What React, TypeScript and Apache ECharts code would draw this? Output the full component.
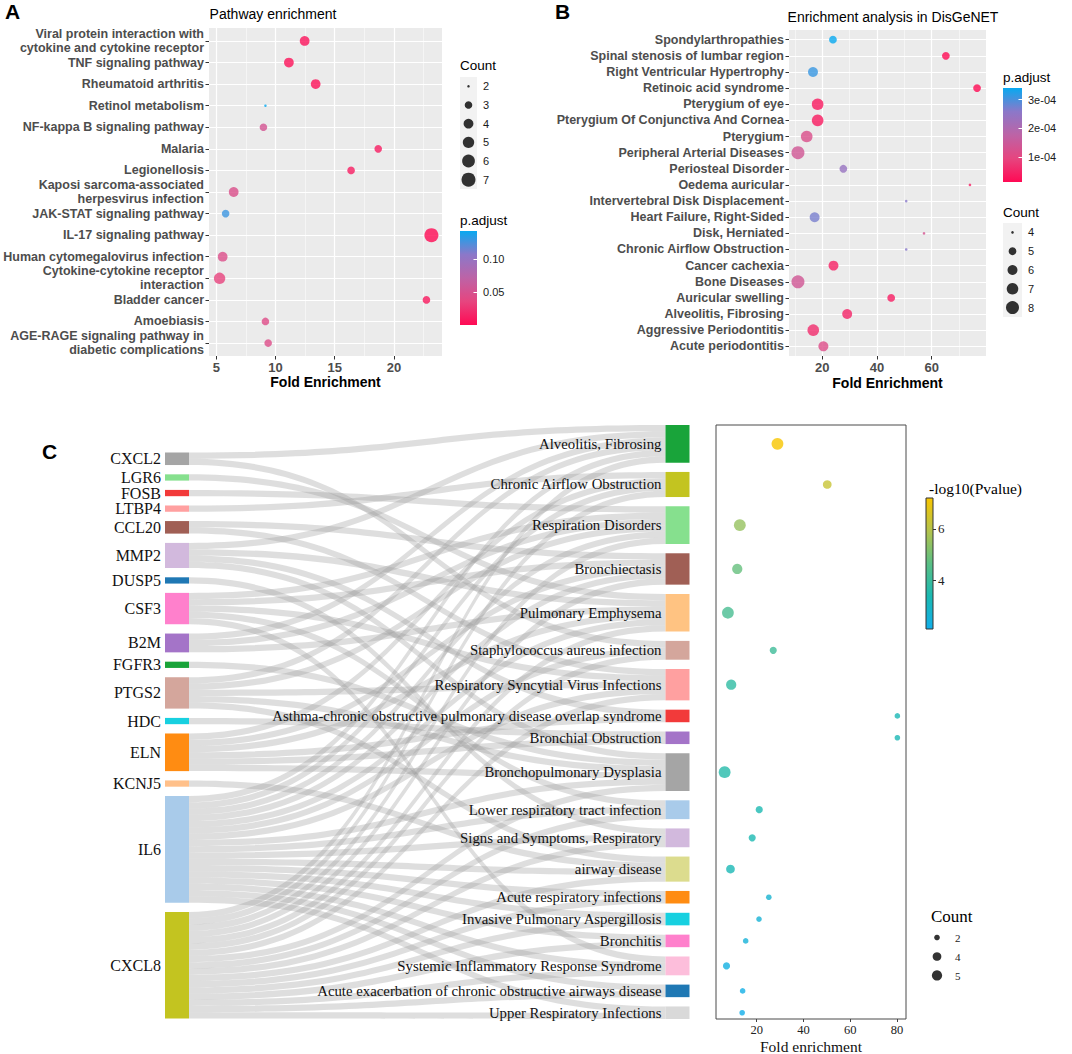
import React, { useEffect, useRef } from "react";
import * as echarts from "echarts";

const SANS = "'Liberation Sans', Arial, sans-serif";
const SERIF = "'Liberation Serif', 'Times New Roman', serif";

// ---------- Panel A: KEGG pathway enrichment ----------
const pathwayNames = [
  "Viral protein interaction with cytokine and cytokine receptor",
  "TNF signaling pathway",
  "Rheumatoid arthritis",
  "Retinol metabolism",
  "NF-kappa B signaling pathway",
  "Malaria",
  "Legionellosis",
  "Kaposi sarcoma-associated herpesvirus infection",
  "JAK-STAT signaling pathway",
  "IL-17 signaling pathway",
  "Human cytomegalovirus infection",
  "Cytokine-cytokine receptor interaction",
  "Bladder cancer",
  "Amoebiasis",
  "AGE-RAGE signaling pathway in diabetic complications",
];
const pathwayFold = [12.46, 11.13, 13.39, 9.15, 8.98, 18.67, 16.38, 6.47, 5.79, 23.16, 5.54, 5.28, 22.74, 9.15, 9.38];
const pathwayCount = [4, 4, 4, 2, 3, 3, 3, 4, 3, 7, 4, 5, 3, 3, 3];
const pathwayPadj = [0.006, 0.005, 0.005, 0.142, 0.052, 0.011, 0.012, 0.046, 0.128, 0.0006, 0.045, 0.034, 0.009, 0.043, 0.044];
const foldTicksA = [5, 10, 15, 20];
const countTicksA = [2, 3, 4, 5, 6, 7];
const padjTicksA = [0.05, 0.1];

// ---------- Panel B: DisGeNET enrichment ----------
const disgenetNames = [
  "Spondylarthropathies",
  "Spinal stenosis of lumbar region",
  "Right Ventricular Hypertrophy",
  "Retinoic acid syndrome",
  "Pterygium of eye",
  "Pterygium Of Conjunctiva And Cornea",
  "Pterygium",
  "Peripheral Arterial Diseases",
  "Periosteal Disorder",
  "Oedema auricular",
  "Intervertebral Disk Displacement",
  "Heart Failure, Right-Sided",
  "Disk, Herniated",
  "Chronic Airflow Obstruction",
  "Cancer cachexia",
  "Bone Diseases",
  "Auricular swelling",
  "Alveolitis, Fibrosing",
  "Aggressive Periodontitis",
  "Acute periodontitis",
];
const disgenetFold = [23.9, 65.2, 16.6, 76.6, 18.3, 18.3, 14.3, 11.1, 27.7, 74.0, 50.7, 17.2, 57.2, 50.7, 24.1, 11.1, 45.2, 29.1, 16.7, 20.4];
const disgenetCount = [5, 5, 6, 5, 7, 7, 7, 8, 5, 4, 4, 6, 4, 4, 6, 8, 5, 6, 7, 6];
const disgenetPadj = [3.4e-4, 1.5e-5, 3.1e-4, 1.5e-5, 3.5e-5, 3.5e-5, 1.2e-4, 1.4e-4, 2.4e-4, 4.5e-5, 2.6e-4, 2.7e-4, 1.3e-4, 2.6e-4, 4.5e-5, 1.4e-4, 4e-5, 5e-5, 6e-5, 1.15e-4];
const foldTicksB = [20, 40, 60];
const countTicksB = [4, 5, 6, 7, 8];
const padjTicksB = [1e-4, 2e-4, 3e-4];

// ---------- Panel C: gene -> respiratory disease sankey + dot plot ----------
const genes = ["CXCL2", "LGR6", "FOSB", "LTBP4", "CCL20", "MMP2", "DUSP5", "CSF3", "B2M", "FGFR3", "PTGS2", "HDC", "ELN", "KCNJ5", "IL6", "CXCL8"];
const geneColors = ["#a5a5a5", "#86e08e", "#f23a3a", "#ffa0a0", "#a05f55", "#d2b9dd", "#1f78b4", "#ff80cc", "#a474c8", "#19a43a", "#d4a69c", "#17d0e0", "#ff8c12", "#ffc08a", "#a9cbea", "#c3c420"];
const respDiseases = [
  "Alveolitis, Fibrosing",
  "Chronic Airflow Obstruction",
  "Respiration Disorders",
  "Bronchiectasis",
  "Pulmonary Emphysema",
  "Staphylococcus aureus infection",
  "Respiratory Syncytial Virus Infections",
  "Asthma-chronic obstructive pulmonary disease overlap syndrome",
  "Bronchial Obstruction",
  "Bronchopulmonary Dysplasia",
  "Lower respiratory tract infection",
  "Signs and Symptoms, Respiratory",
  "airway disease",
  "Acute respiratory infections",
  "Invasive Pulmonary Aspergillosis",
  "Bronchitis",
  "Systemic Inflammatory Response Syndrome",
  "Acute exacerbation of chronic obstructive airways disease",
  "Upper Respiratory Infections",
];
const respColors = ["#19a43a", "#c3c420", "#86e08e", "#a05f55", "#ffc382", "#d4a69c", "#ffa0a0", "#f23a3a", "#a474c8", "#a5a5a5", "#a9cbea", "#d2b9dd", "#dcdc8e", "#ff8c12", "#17d0e0", "#ff80cc", "#fdbedb", "#1f78b4", "#d9d9d9"];
const respGenes = [
  ["CXCL2", "MMP2", "B2M", "PTGS2", "IL6", "CXCL8"],
  ["LTBP4", "ELN", "IL6", "CXCL8"],
  ["FOSB", "CSF3", "B2M", "PTGS2", "IL6", "CXCL8"],
  ["CCL20", "CSF3", "ELN", "IL6", "CXCL8"],
  ["LGR6", "MMP2", "B2M", "ELN", "IL6", "CXCL8"],
  ["CXCL2", "IL6", "CXCL8"],
  ["CCL20", "CSF3", "PTGS2", "IL6", "CXCL8"],
  ["MMP2", "ELN"],
  ["HDC", "ELN"],
  ["MMP2", "FGFR3", "PTGS2", "ELN", "IL6", "CXCL8"],
  ["CSF3", "IL6", "CXCL8"],
  ["DUSP5", "IL6", "CXCL8"],
  ["PTGS2", "KCNJ5", "IL6", "CXCL8"],
  ["IL6", "CXCL8"],
  ["IL6", "CXCL8"],
  ["IL6", "CXCL8"],
  ["CSF3", "IL6", "CXCL8"],
  ["IL6", "CXCL8"],
  ["IL6", "CXCL8"],
];
const respFold = [28.9, 50.2, 12.8, 11.7, 7.7, 27.1, 9.1, 80.2, 80.2, 6.3, 21.1, 18.1, 8.8, 25.2, 21.0, 15.3, 7.1, 14.0, 13.8];
const respLogP = [7.2, 6.3, 5.5, 4.8, 4.3, 4.1, 3.8, 3.3, 3.3, 3.6, 3.4, 3.4, 3.3, 2.7, 2.6, 2.5, 2.3, 2.2, 2.1];
const foldTicksC = [20, 40, 60, 80];
const countTicksC = [2, 4, 5];
const logpTicksC = [4, 6];

// ---------- layout / style constants ----------
const SANKEY = { left: 165, top: 425, width: 524.5, height: 594, nodeWidth: 24, gap: 9.3 };
const SPACER = 2.9; // empty slot at top of gene column (bottom-aligns it)
const padjColors = ["#ff0a54", "#e6457f", "#bd63a6", "#8b78c9", "#08a9f0"];
const logpColors = ["#12aeea", "#1ab9b2", "#5abf84", "#b4c34c", "#f8c500"];

const sizeA = (c: number) => 2.5 * (1 + 4.6 * Math.sqrt((c - 2) / 5));
const sizeB = (c: number) => 2.6 * (1 + 4 * Math.sqrt((c - 4) / 4));
const sizeC = (c: number) => 2.5 + 1.55 * c;

const expand = (arr: number[], f = 0.05): [number, number] => {
  const lo = Math.min(...arr);
  const hi = Math.max(...arr);
  const r = hi - lo;
  return [lo - f * r, hi + f * r];
};

const wrap = (s: string, w = 31) => {
  const words = s.split(" ");
  const lines: string[] = [];
  let cur = "";
  for (const wd of words) {
    if (!cur) cur = wd;
    else if ((cur + " " + wd).length <= w) cur += " " + wd;
    else {
      lines.push(cur);
      cur = wd;
    }
  }
  if (cur) lines.push(cur);
  return lines.join("\n");
};

const expFmt = (v: number) => v.toExponential(0).replace(/e([+-])(\d)$/, (_m, s, d) => `e${s}0${d}`);

const vGradient = (colors: string[]) =>
  new echarts.graphic.LinearGradient(
    0, 0, 0, 1,
    colors.slice().reverse().map((c, i, arr) => ({ offset: i / (arr.length - 1), color: c }))
  );

function buildOption() {
  const [xLoA, xHiA] = expand(pathwayFold);
  const [xLoB, xHiB] = expand(disgenetFold);
  const [xLoC, xHiC] = expand(respFold);
  const pMinA = Math.min(...pathwayPadj), pMaxA = Math.max(...pathwayPadj);
  const pMinB = Math.min(...disgenetPadj), pMaxB = Math.max(...disgenetPadj);
  const lMin = Math.min(...respLogP), lMax = Math.max(...respLogP);

  const idxA = pathwayNames.map((_, i) => i);
  const idxB = disgenetNames.map((_, i) => i);

  // sankey node centres (same rule as the sankey layout) give the dot-plot rows
  const units = respGenes.map((g) => g.length);
  const total = units.reduce((a, b) => a + b, 0);
  const kyR = (SANKEY.height - (respDiseases.length - 1) * SANKEY.gap) / total;
  const kyL = (SANKEY.height - genes.length * SANKEY.gap) / (total + SPACER);
  const ky = Math.min(kyR, kyL);
  const rowY: number[] = [];
  let acc = 0;
  units.forEach((u) => {
    rowY.push(acc + (u * ky) / 2);
    acc += u * ky + SANKEY.gap;
  });

  const boldLab = { fontFamily: SANS, fontWeight: "bold" as const, fontSize: 12.5, color: "#4d4d4d" };
  const tick = { show: true, length: 3.5, lineStyle: { color: "#333", width: 1 } };
  const noLine = { show: false, onZero: false };
  const white = (w: number) => ({ show: true, lineStyle: { color: "#ffffff", width: w } });
  const hiddenX = (gi: number) => ({ type: "value", gridIndex: gi, min: -1, max: 1, show: false, axisLine: { onZero: false } });

  const grids = [
    { left: 209, top: 28, width: 233, height: 328, show: true, backgroundColor: "#ebebeb", borderWidth: 0 },
    { left: 460, top: 77, width: 17, height: 112, show: true, backgroundColor: "#f2f2f2", borderWidth: 0 },
    { left: 460, top: 231, width: 17, height: 94, show: true, backgroundColor: vGradient(padjColors), borderWidth: 0 },
    { left: 789, top: 30, width: 197, height: 326, show: true, backgroundColor: "#ebebeb", borderWidth: 0 },
    { left: 1003, top: 88, width: 19, height: 94, show: true, backgroundColor: vGradient(padjColors), borderWidth: 0 },
    { left: 1003, top: 223, width: 19, height: 94, show: true, backgroundColor: "#f2f2f2", borderWidth: 0 },
    { left: 716, top: SANKEY.top, width: 190, height: SANKEY.height, show: true, backgroundColor: "transparent", borderColor: "#4a4a4a", borderWidth: 1 },
    { left: 926, top: 498, width: 7, height: 131, show: true, backgroundColor: vGradient(logpColors), borderColor: "#333", borderWidth: 1 },
    { left: 929, top: 928, width: 16, height: 57, show: false },
  ].map((g) => ({ ...g, containLabel: false, outerBoundsMode: "none" }));

  const xAxis = [
    {
      type: "value", gridIndex: 0, min: xLoA, max: xHiA, splitNumber: 4,
      axisLine: noLine,
      axisTick: { ...tick, customValues: foldTicksA },
      axisLabel: { ...boldLab, fontSize: 13, customValues: foldTicksA, margin: 5, hideOverlap: false },
      splitLine: white(1.2),
      minorTick: { show: false, splitNumber: 2 },
      minorSplitLine: white(0.5),
      name: "Fold Enrichment", nameLocation: "middle", nameGap: 19, nameMoveOverlap: false,
      nameTextStyle: { fontFamily: SANS, fontWeight: "bold", fontSize: 14, color: "#000" },
    },
    hiddenX(1),
    hiddenX(2),
    {
      type: "value", gridIndex: 3, min: xLoB, max: xHiB, splitNumber: 4,
      axisLine: noLine,
      axisTick: { ...tick, customValues: foldTicksB },
      axisLabel: { ...boldLab, fontSize: 13, customValues: foldTicksB, margin: 5, hideOverlap: false },
      splitLine: white(1.2),
      minorTick: { show: false, splitNumber: 2 },
      minorSplitLine: white(0.5),
      name: "Fold Enrichment", nameLocation: "middle", nameGap: 20, nameMoveOverlap: false,
      nameTextStyle: { fontFamily: SANS, fontWeight: "bold", fontSize: 14, color: "#000" },
    },
    hiddenX(4),
    hiddenX(5),
    {
      type: "value", gridIndex: 6, min: xLoC, max: xHiC, splitNumber: 4,
      axisLine: noLine,
      axisTick: { show: true, length: 3, lineStyle: { color: "#444" }, customValues: foldTicksC },
      axisLabel: { customValues: foldTicksC, fontFamily: SERIF, fontSize: 12.5, color: "#222", margin: 4, hideOverlap: false },
      splitLine: { show: false },
      name: "Fold enrichment", nameLocation: "middle", nameGap: 19, nameMoveOverlap: false,
      nameTextStyle: { fontFamily: SERIF, fontSize: 15.5, color: "#111" },
    },
    hiddenX(7),
    hiddenX(8),
  ];

  const yAxis = [
    {
      type: "value", gridIndex: 0, inverse: true, min: -0.6, max: pathwayNames.length - 0.4,
      axisLine: noLine,
      axisTick: { ...tick, customValues: idxA },
      axisLabel: {
        ...boldLab, customValues: idxA, margin: 5, lineHeight: 14, hideOverlap: false,
        formatter: (v: number) => wrap(pathwayNames[Math.round(v)] || ""),
      },
      splitLine: white(1.2),
    },
    {
      type: "category", gridIndex: 1, inverse: true, position: "right",
      data: countTicksA.map(String),
      axisLine: noLine, axisTick: { show: false },
      axisLabel: { fontFamily: SANS, fontSize: 11, color: "#1a1a1a", margin: 6, interval: 0 },
      splitLine: { show: false },
    },
    {
      type: "value", gridIndex: 2, min: pMinA, max: pMaxA, position: "right",
      axisLine: noLine,
      axisTick: { show: true, inside: true, length: 3.5, lineStyle: { color: "#fff" }, customValues: padjTicksA },
      axisLabel: { customValues: padjTicksA, formatter: (v: number) => v.toFixed(2), fontFamily: SANS, fontSize: 11, color: "#1a1a1a", margin: 6 },
      splitLine: { show: false },
    },
    {
      type: "value", gridIndex: 3, inverse: true, min: -0.6, max: disgenetNames.length - 0.4,
      axisLine: noLine,
      axisTick: { ...tick, customValues: idxB },
      axisLabel: {
        ...boldLab, customValues: idxB, margin: 5, hideOverlap: false,
        formatter: (v: number) => disgenetNames[Math.round(v)] || "",
      },
      splitLine: white(1.2),
    },
    {
      type: "value", gridIndex: 4, min: pMinB, max: pMaxB, position: "right",
      axisLine: noLine,
      axisTick: { show: true, inside: true, length: 3.5, lineStyle: { color: "#fff" }, customValues: padjTicksB },
      axisLabel: { customValues: padjTicksB, formatter: expFmt, fontFamily: SANS, fontSize: 11, color: "#1a1a1a", margin: 6 },
      splitLine: { show: false },
    },
    {
      type: "category", gridIndex: 5, inverse: true, position: "right",
      data: countTicksB.map(String),
      axisLine: noLine, axisTick: { show: false },
      axisLabel: { fontFamily: SANS, fontSize: 11, color: "#1a1a1a", margin: 6, interval: 0 },
      splitLine: { show: false },
    },
    { type: "value", gridIndex: 6, inverse: true, min: 0, max: SANKEY.height, show: false, axisLine: { onZero: false } },
    {
      type: "value", gridIndex: 7, min: lMin, max: lMax, position: "right",
      axisLine: noLine,
      axisTick: { show: true, length: 3, lineStyle: { color: "#333" }, customValues: logpTicksC },
      axisLabel: { customValues: logpTicksC, fontFamily: SERIF, fontSize: 13, color: "#222", margin: 5 },
      splitLine: { show: false },
    },
    {
      type: "category", gridIndex: 8, inverse: true, position: "right",
      data: countTicksC.map(String),
      axisLine: noLine, axisTick: { show: false },
      axisLabel: { fontFamily: SERIF, fontSize: 11, color: "#222", margin: 10, interval: 0 },
      splitLine: { show: false },
    },
  ];

  const sankeyNodes = [
    { name: "__spacer__", value: SPACER, depth: 0, itemStyle: { color: "rgba(0,0,0,0)", opacity: 0 }, label: { show: false } },
    ...genes.map((g, i) => ({ name: g, itemStyle: { color: geneColors[i] }, label: { fontSize: 16 } })),
    ...respDiseases.map((d, i) => ({ name: d, itemStyle: { color: respColors[i] }, label: { fontSize: 14.8 } })),
  ];
  const sankeyLinks = respGenes.flatMap((gs, i) => gs.map((g) => ({ source: g, target: respDiseases[i], value: 1 })));

  const series: any[] = [
    {
      type: "scatter", xAxisIndex: 0, yAxisIndex: 0, silent: true,
      data: pathwayFold.map((f, i) => [f, i, pathwayCount[i], pathwayPadj[i]]),
      symbolSize: (d: number[]) => sizeA(d[2]),
    },
    {
      type: "scatter", xAxisIndex: 1, yAxisIndex: 1, silent: true,
      data: countTicksA.map((c, i) => [0, i, c]),
      symbolSize: (d: number[]) => sizeA(d[2]),
      itemStyle: { color: "#000" },
    },
    {
      type: "scatter", xAxisIndex: 3, yAxisIndex: 3, silent: true,
      data: disgenetFold.map((f, i) => [f, i, disgenetCount[i], disgenetPadj[i]]),
      symbolSize: (d: number[]) => sizeB(d[2]),
    },
    {
      type: "scatter", xAxisIndex: 5, yAxisIndex: 5, silent: true,
      data: countTicksB.map((c, i) => [0, i, c]),
      symbolSize: (d: number[]) => sizeB(d[2]),
      itemStyle: { color: "#000" },
    },
    {
      type: "sankey", silent: true,
      left: SANKEY.left, top: SANKEY.top, width: SANKEY.width, height: SANKEY.height,
      nodeWidth: SANKEY.nodeWidth, nodeGap: SANKEY.gap, nodeAlign: "left", layoutIterations: 0,
      draggable: false,
      emphasis: { disabled: true },
      data: sankeyNodes,
      links: sankeyLinks,
      itemStyle: { borderWidth: 0 },
      lineStyle: { color: "#9a9a9a", opacity: 0.33, curveness: 0.5 },
      label: { show: true, position: "left", distance: 4, fontFamily: SERIF, color: "#111" },
    },
    {
      type: "scatter", xAxisIndex: 6, yAxisIndex: 6, silent: true,
      data: respFold.map((f, i) => [f, rowY[i], units[i], respLogP[i]]),
      symbolSize: (d: number[]) => sizeC(d[2]),
    },
    {
      type: "scatter", xAxisIndex: 8, yAxisIndex: 8, silent: true,
      data: countTicksC.map((c, i) => [0, i, c]),
      symbolSize: (d: number[]) => sizeC(d[2]),
      itemStyle: { color: "#000" },
    },
  ];

  const txt = (text: string, x: number, y: number, font: string, align = "left", fill = "#000") => ({
    type: "text", x, y, silent: true,
    style: { text, font, fill, align, verticalAlign: "middle" },
  });

  const graphic = [
    txt("A", 5, 11, `bold 21px ${SANS}`),
    txt("B", 555, 11, `bold 21px ${SANS}`),
    txt("C", 42, 451, `bold 21px ${SANS}`),
    txt("Pathway enrichment", 273, 14, `14px ${SANS}`, "center"),
    txt("Enrichment analysis in DisGeNET", 893, 17, `14px ${SANS}`, "center"),
    txt("Count", 460, 65, `13.5px ${SANS}`),
    txt("p.adjust", 460, 220, `13.5px ${SANS}`),
    txt("p.adjust", 1003, 77, `13.5px ${SANS}`),
    txt("Count", 1003, 212, `13.5px ${SANS}`),
    txt("-log10(Pvalue)", 929, 488, `15.5px ${SERIF}`),
    txt("Count", 931, 916, `17px ${SERIF}`),
  ];

  return {
    animation: false,
    backgroundColor: "#ffffff",
    grid: grids,
    xAxis,
    yAxis,
    visualMap: [
      { show: false, type: "continuous", seriesIndex: 0, dimension: 3, min: pMinA, max: pMaxA, inRange: { color: padjColors } },
      { show: false, type: "continuous", seriesIndex: 2, dimension: 3, min: pMinB, max: pMaxB, inRange: { color: padjColors } },
      { show: false, type: "continuous", seriesIndex: 5, dimension: 3, min: lMin, max: lMax, inRange: { color: logpColors } },
    ],
    series,
    graphic,
  };
}

export default function App() {
  const ref = useRef<HTMLDivElement>(null);
  useEffect(() => {
    if (!ref.current) return;
    const chart = echarts.init(ref.current, null, { renderer: "svg" });
    chart.setOption(buildOption() as any);
    return () => chart.dispose();
  }, []);
  return (
    <div
      ref={ref}
      style={{ position: "absolute", left: 0, top: 0, width: 1072, height: 1054, background: "#fff" }}
    />
  );
}
